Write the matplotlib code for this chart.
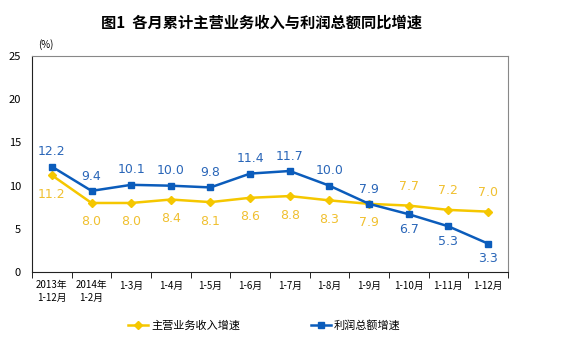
import numpy as np
import matplotlib
matplotlib.use("Agg")
import matplotlib.pyplot as plt

plt.rcParams['font.family'] = ['Noto Sans CJK SC', 'DejaVu Sans']

categories = ['2013年\n1-12月', '2014年\n1-2月', '1-3月', '1-4月', '1-5月', '1-6月',
              '1-7月', '1-8月', '1-9月', '1-10月', '1-11月', '1-12月']
revenue = [11.2, 8.0, 8.0, 8.4, 8.1, 8.6, 8.8, 8.3, 7.9, 7.7, 7.2, 7.0]
profit = [12.2, 9.4, 10.1, 10.0, 9.8, 11.4, 11.7, 10.0, 7.9, 6.7, 5.3, 3.3]
# label above (+1) or below (-1) the point
rev_pos = [-1, -1, -1, -1, -1, -1, -1, -1, -1, 1, 1, 1]
pro_pos = [1, 1, 1, 1, 1, 1, 1, 1, 1, -1, -1, -1]

yellow = '#F5C700'
blue = '#0B5CBB'
yellow_txt = '#F0C030'
blue_txt = '#2A66B8'

fig = plt.figure(figsize=(5.63, 3.48), dpi=100)
ax = fig.add_axes([0.057, 0.218, 0.845, 0.621])
x = np.arange(len(categories))

ax.plot(x, revenue, color=yellow, lw=1.8, marker='D', ms=4.5, label='主营业务收入增速')
ax.plot(x, profit, color=blue, lw=1.8, marker='s', ms=4.5, label='利润总额增速')

for i in range(len(x)):
    ax.annotate(f'{revenue[i]:.1f}', (x[i], revenue[i]), xytext=(0, 9 * rev_pos[i]),
                textcoords='offset points', ha='center',
                va='bottom' if rev_pos[i] > 0 else 'top', color=yellow_txt, fontsize=9,
                family=['DejaVu Sans'])
    ax.annotate(f'{profit[i]:.1f}', (x[i], profit[i]), xytext=(0, 6 * pro_pos[i]),
                textcoords='offset points', ha='center',
                va='bottom' if pro_pos[i] > 0 else 'top', color=blue_txt, fontsize=9,
                family=['DejaVu Sans'])

ax.set_xlim(-0.5, len(x) - 0.5)
ax.set_ylim(0, 25)
ax.set_yticks([0, 5, 10, 15, 20, 25])
ax.tick_params(axis='y', length=0, labelsize=8, pad=8)
ax.set_xticks(x)
ax.set_xticklabels(categories, fontsize=7, linespacing=1.3)
ax.set_xticks(np.arange(-0.5, len(x), 1), minor=True)
ax.tick_params(axis='x', which='major', length=0, pad=6)
ax.tick_params(axis='x', which='minor', length=4, direction='out')
for lab in ax.get_xticklabels():
    lab.set_verticalalignment('top')

for s in ['top', 'right']:
    ax.spines[s].set_color('#888888')
ax.spines['left'].set_color('#222222')
ax.spines['bottom'].set_color('#222222')

fig.text(0.465, 0.935, '图1  各月累计主营业务收入与利润总额同比增速', ha='center', va='center',
         fontsize=11, fontweight='bold')
fig.text(0.068, 0.872, '(%)', ha='left', va='center', fontsize=7)

fig.legend(loc='center', bbox_to_anchor=(0.47, 0.065), ncol=2, frameon=False,
           fontsize=8, columnspacing=6.3, handlelength=1.8, handletextpad=0.3)

fig.savefig('out.png', dpi=100)
